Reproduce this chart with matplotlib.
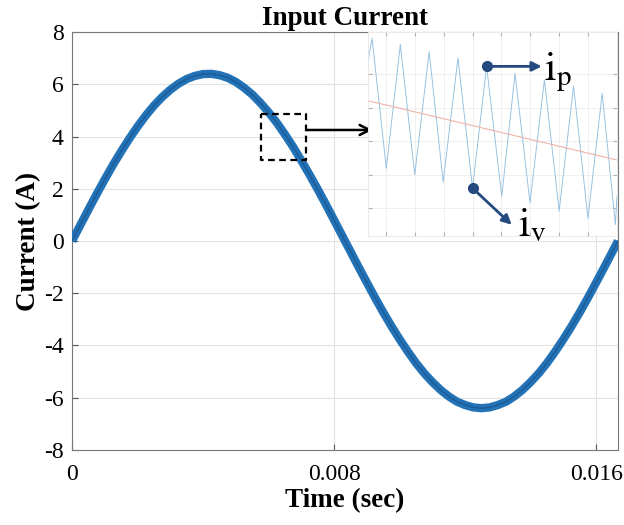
import numpy as np
import matplotlib
matplotlib.use("Agg")
import matplotlib.pyplot as plt

plt.rcParams['font.family'] = ['Liberation Serif', 'DejaVu Serif']
plt.rcParams['mathtext.fontset'] = 'stix'
plt.rcParams['axes.unicode_minus'] = False

t = [0.0, 0.00025, 0.0005, 0.00075, 0.001, 0.00125, 0.0015, 0.00175,
     0.002, 0.00225, 0.0025, 0.00275, 0.003, 0.00325, 0.0035, 0.00375,
     0.004, 0.00425, 0.0045, 0.00475, 0.005, 0.00525, 0.0055, 0.00575,
     0.006, 0.00625, 0.0065, 0.00675, 0.007, 0.00725, 0.0075, 0.00775,
     0.008, 0.00825, 0.0085, 0.00875, 0.009, 0.00925, 0.0095, 0.00975,
     0.010, 0.01025, 0.0105, 0.01075, 0.011, 0.01125, 0.0115, 0.01175,
     0.012, 0.01225, 0.0125, 0.01275, 0.013, 0.01325, 0.0135, 0.01375,
     0.014, 0.01425, 0.0145, 0.01475, 0.015, 0.01525, 0.0155, 0.01575,
     0.016, 0.01625, 0.0165, 0.016667]
i_in = [0.0, 0.60, 1.20, 1.79, 2.36, 2.91, 3.43, 3.92,
        4.38, 4.80, 5.18, 5.51, 5.79, 6.02, 6.20, 6.32,
        6.39, 6.40, 6.35, 6.25, 6.09, 5.87, 5.61, 5.29,
        4.93, 4.53, 4.08, 3.60, 3.08, 2.54, 1.98, 1.40,
        0.80, 0.20, -0.40, -1.00, -1.59, -2.17, -2.73, -3.26,
        -3.76, -4.23, -4.67, -5.06, -5.40, -5.70, -5.95, -6.15,
        -6.28, -6.37, -6.40, -6.37, -6.28, -6.15, -5.95, -5.70,
        -5.40, -5.06, -4.67, -4.23, -3.76, -3.26, -2.73, -2.17,
        -1.59, -1.00, -0.40, 0.0]

# zoomed ripple: peaks and valleys
t_peak = [0.005823, 0.005982, 0.006144, 0.006306, 0.006467, 0.006627, 0.006792, 0.006956, 0.007117]
i_peak = [4.92, 4.86, 4.79, 4.73, 4.65, 4.58, 4.52, 4.46, 4.39]
t_valley = [0.005903, 0.006063, 0.006223, 0.006388, 0.006552, 0.006711, 0.006875, 0.007037, 0.007191]
i_valley = [3.67, 3.61, 3.54, 3.48, 3.40, 3.34, 3.26, 3.19, 3.13]
t_start, i_start = 0.0058, 4.70
t_end, i_end = 0.0072, 3.40
t_avg = [0.0058, 0.0072]
i_avg = [4.32, 3.75]

# zoom box on main plot
box_t = [0.00577, 0.00715]
box_i = [3.12, 4.85]

xticks = [0, 0.008, 0.016]
xticklabels = ['0', '0.008', '0.016']
yticks = [-8, -6, -4, -2, 0, 2, 4, 6, 8]

fig = plt.figure(figsize=(6.24, 5.25), dpi=100)
ax = fig.add_axes([0.1154, 0.1429, 0.875, 0.7961])

ax.plot(t, i_in, color='#2372b6', lw=6, solid_capstyle='butt', zorder=3)
ax.plot(t, i_in, color='#1c5e9c', lw=1.2, zorder=4)

ax.set_xlim(0, 0.016667)
ax.set_ylim(-8, 8)
ax.set_xticks(xticks)
ax.set_xticklabels(xticklabels)
ax.set_yticks(yticks)
ax.grid(True, color='#e3e3e3', lw=0.8)
ax.tick_params(direction='in', length=4, color='#555555', labelsize=17)
ax.tick_params(axis='x', pad=10)
ax.tick_params(axis='y', pad=6)
for s in ax.spines.values():
    s.set_color('#777777')
    s.set_linewidth(0.8)
ax.set_title('Input Current', fontsize=19.5, fontweight='bold', pad=5)
ax.set_xlabel('Time (sec)', fontsize=19.5, fontweight='bold', labelpad=2)
ax.set_ylabel('Current (A)', fontsize=19.5, fontweight='bold', labelpad=2)

# dashed zoom box and arrow to inset
ax.plot([box_t[0], box_t[1], box_t[1], box_t[0], box_t[0]],
        [box_i[1], box_i[1], box_i[0], box_i[0], box_i[1]],
        color='black', lw=1.6, ls=(0, (3, 2)), zorder=5)
ax.annotate('', xy=(0.00917, 4.25), xytext=(box_t[1], 4.25),
            arrowprops=dict(arrowstyle='->', color='black', lw=1.8,
                            mutation_scale=18, shrinkA=0, shrinkB=0), zorder=6)

# inset
ins = fig.add_axes([0.5897, 0.5505, 0.399, 0.3885])
wave_t = [t_start]
wave_i = [i_start]
for k in range(len(t_peak)):
    wave_t += [t_peak[k], t_valley[k]]
    wave_i += [i_peak[k], i_valley[k]]
wave_t.append(t_end)
wave_i.append(i_end)
ins.plot(wave_t, wave_i, color='#98c2e0', lw=0.7)
ins.plot(t_avg, i_avg, color='#efb3a6', lw=0.8)
ins.set_xlim(0.0058, 0.0072)
ins.set_ylim(3.02, 4.98)
ins.set_xticks([0.005903 + k * 0.0001617 for k in range(8)])
ins.set_yticks([3.288, 3.608, 3.928, 4.248, 4.574])
ins.set_xticklabels([])
ins.set_yticklabels([])
ins.tick_params(direction='in', length=3, color='#b0b0b0', top=True, right=True)
ins.grid(True, color='#ececec', lw=0.6)
for s in ins.spines.values():
    s.set_color('#e6e6e6')
    s.set_linewidth(0.6)

navy = '#23497f'
ip_t, ip_i = t_peak[4], i_peak[4]
iv_t, iv_i = t_valley[3], i_valley[3]
ins.plot([ip_t], [ip_i], 'o', color=navy, ms=7, zorder=5)
ins.annotate('', xy=(0.006777, ip_i), xytext=(ip_t, ip_i),
             arrowprops=dict(arrowstyle='-|>', color=navy, lw=2,
                             mutation_scale=14, shrinkA=0, shrinkB=0))
ins.text(0.006787, 4.52, r'$\mathrm{i}_{\mathrm{p}}$', fontsize=30, color='black',
         ha='left', va='baseline')
ins.plot([iv_t], [iv_i], 'o', color=navy, ms=7, zorder=5)
ins.annotate('', xy=(0.006608, 3.128), xytext=(iv_t, iv_i),
             arrowprops=dict(arrowstyle='-|>', color=navy, lw=2,
                             mutation_scale=14, shrinkA=0, shrinkB=0),
             annotation_clip=False)
ins.text(0.006646, 3.02, r'$\mathrm{i}_{\mathrm{v}}$', fontsize=30, color='black',
         ha='left', va='baseline', clip_on=False)

fig.savefig('out.png', dpi=100)
